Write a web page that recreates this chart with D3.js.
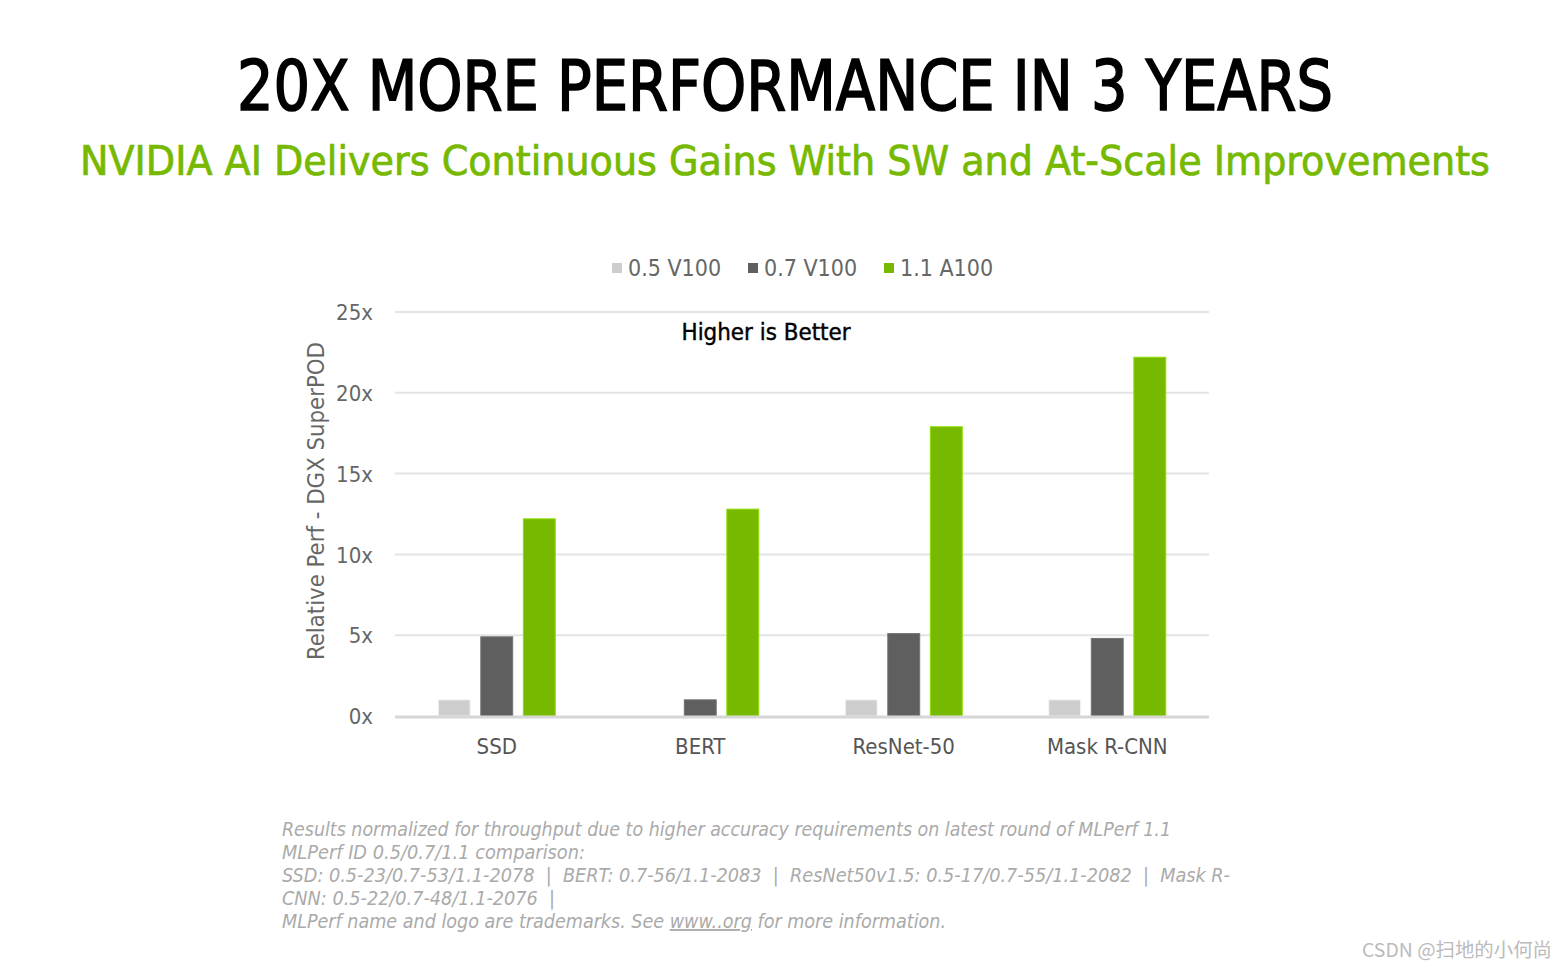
<!DOCTYPE html>
<html><head><meta charset="utf-8">
<script src="https://cdn.jsdelivr.net/npm/d3@7"></script>
<style>
html,body{margin:0;padding:0;background:#fff;}
svg{display:block;}
</style></head>
<body>
<svg id="chart" width="1567" height="969"></svg>
<script>
const categories = ["SSD", "BERT", "ResNet-50", "Mask R-CNN"];
const seriesNames = ["0.5 V100", "0.7 V100", "1.1 A100"];
const seriesColors = ["#cdcdcd", "#5f5f5f", "#76b900"];
const v05 = [1, 0, 1, 1];
const v07 = [4.9, 1, 5.1, 4.8];
const a11 = [12.2, 12.8, 17.9, 22.2];
const yTicks = [0, 5, 10, 15, 20, 25];
const footLines = [
  "Results normalized for throughput due to higher accuracy requirements on latest round of MLPerf 1.1",
  "MLPerf ID 0.5/0.7/1.1 comparison:",
  "SSD: 0.5-23/0.7-53/1.1-2078  |  BERT: 0.7-56/1.1-2083  |  ResNet50v1.5: 0.5-17/0.7-55/1.1-2082  |  Mask R-",
  "CNN: 0.5-22/0.7-48/1.1-2076  |"
];
const footWidths = [889, 303, 948, 273];
const seriesValues = [v05, v07, a11];

const svg = d3.select("#chart");
const FONT = "'DejaVu Sans Condensed','DejaVu Sans',sans-serif";

// Titles
svg.append("text").attr("x", 785).attr("y", 110).attr("text-anchor", "middle")
  .attr("font-family", FONT).attr("font-size", 70).attr("fill", "#000")
  .attr("stroke", "#000").attr("stroke-width", 1.6)
  .attr("textLength", 1096).attr("lengthAdjust", "spacingAndGlyphs")
  .text("20X MORE PERFORMANCE IN 3 YEARS");
svg.append("text").attr("x", 785).attr("y", 175).attr("text-anchor", "middle")
  .attr("font-family", FONT).attr("font-size", 41).attr("fill", "#76b900")
  .attr("stroke", "#76b900").attr("stroke-width", 0.7)
  .attr("textLength", 1410).attr("lengthAdjust", "spacingAndGlyphs")
  .text("NVIDIA AI Delivers Continuous Gains With SW and At-Scale Improvements");

// Scales
const left = 395, right = 1209;
const y = d3.scaleLinear().domain([0, 25]).range([716, 312]);
const x0 = d3.scaleBand().domain(categories).range([left, right]).paddingInner(0.425).paddingOuter(0.2125);
const x1 = d3.scaleBand().domain(seriesNames).range([0, x0.bandwidth()]).paddingInner(0.25);

// Gridlines
svg.append("g").selectAll("line").data(yTicks.filter(d => d > 0)).join("line")
  .attr("x1", left).attr("x2", right).attr("y1", d => y(d)).attr("y2", d => y(d))
  .attr("stroke", "#e4e4e4").attr("stroke-width", 2);

// Y axis labels
const yAxis = svg.append("g").attr("transform", `translate(${left - 22},0)`)
  .call(d3.axisLeft(y).tickValues(yTicks).tickSize(0).tickPadding(0).tickFormat(d => d + "x"));
yAxis.select(".domain").remove();
yAxis.selectAll("text").attr("font-family", FONT).attr("font-size", 22).attr("fill", "#666").attr("dy", "0.35em");

// Bars
const groups = svg.append("g").selectAll("g").data(categories).join("g")
  .attr("transform", d => `translate(${x0(d)},0)`);
groups.selectAll("rect").data((c, i) => seriesNames.map((s, j) => ({s, j, v: seriesValues[j][i]})))
  .join("rect")
  .filter(d => d.v > 0)
  .attr("x", d => x1(d.s)).attr("width", x1.bandwidth())
  .attr("y", d => y(d.v)).attr("height", d => y(0) - y(d.v))
  .attr("fill", d => seriesColors[d.j])
  .attr("stroke", d => d3.color(seriesColors[d.j]).brighter(0.5)).attr("stroke-width", 1);

// Baseline
svg.append("line").attr("x1", left).attr("x2", right).attr("y1", y(0) + 1).attr("y2", y(0) + 1)
  .attr("stroke", "#d6d6d6").attr("stroke-width", 3);

// X axis labels
const xAxis = svg.append("g").attr("transform", `translate(0,${y(0) + 22})`)
  .call(d3.axisBottom(x0).tickSize(0).tickPadding(0));
xAxis.select(".domain").remove();
xAxis.selectAll("text").attr("font-family", FONT).attr("font-size", 22).attr("fill", "#555").attr("dy", "0.71em");

// Y axis title
svg.append("text").attr("transform", "translate(324,501) rotate(-90)").attr("text-anchor", "middle")
  .attr("font-family", FONT).attr("font-size", 23).attr("fill", "#666")
  .attr("textLength", 318).attr("lengthAdjust", "spacingAndGlyphs")
  .text("Relative Perf - DGX SuperPOD");

// Higher is better
svg.append("text").attr("x", 766).attr("y", 340).attr("text-anchor", "middle")
  .attr("font-family", FONT).attr("font-size", 23).attr("fill", "#000")
  .attr("stroke", "#000").attr("stroke-width", 0.4)
  .attr("textLength", 169).attr("lengthAdjust", "spacingAndGlyphs")
  .text("Higher is Better");

// Legend
const legendX = [612, 748, 884];
const lg = svg.append("g").selectAll("g").data(seriesNames).join("g")
  .attr("transform", (d, i) => `translate(${legendX[i]},268)`);
lg.append("rect").attr("x", 0).attr("y", -5).attr("width", 10).attr("height", 10)
  .attr("fill", (d, i) => seriesColors[i]);
lg.append("text").attr("x", 16).attr("y", 0).attr("dy", "0.35em")
  .attr("font-family", FONT).attr("font-size", 23).attr("fill", "#666")
  .text(d => d);

// Footnote
const fn = svg.append("g").attr("font-family", FONT).attr("font-size", 19)
  .attr("font-style", "italic").attr("fill", "#aaa").style("white-space", "pre");
fn.selectAll("text").data(footLines).join("text")
  .attr("x", 282).attr("y", (d, i) => 836 + i * 23)
  .attr("xml:space", "preserve")
  .attr("textLength", (d, i) => footWidths[i]).attr("lengthAdjust", "spacingAndGlyphs")
  .text(d => d);
const last = fn.append("text").attr("x", 282).attr("y", 836 + 4 * 23)
  .attr("textLength", 664).attr("lengthAdjust", "spacingAndGlyphs");
last.append("tspan").text("MLPerf name and logo are trademarks. See ");
last.append("tspan").style("text-decoration", "underline").text("www..org");
last.append("tspan").text(" for more information.");

// Watermark
svg.append("text").attr("x", 1552).attr("y", 957).attr("text-anchor", "end")
  .attr("font-family", "'Noto Sans CJK SC',sans-serif").attr("font-size", 19).attr("fill", "#bbb")
  .attr("textLength", 190).attr("lengthAdjust", "spacingAndGlyphs")
  .text("CSDN @扫地的小何尚");
</script>
</body></html>
